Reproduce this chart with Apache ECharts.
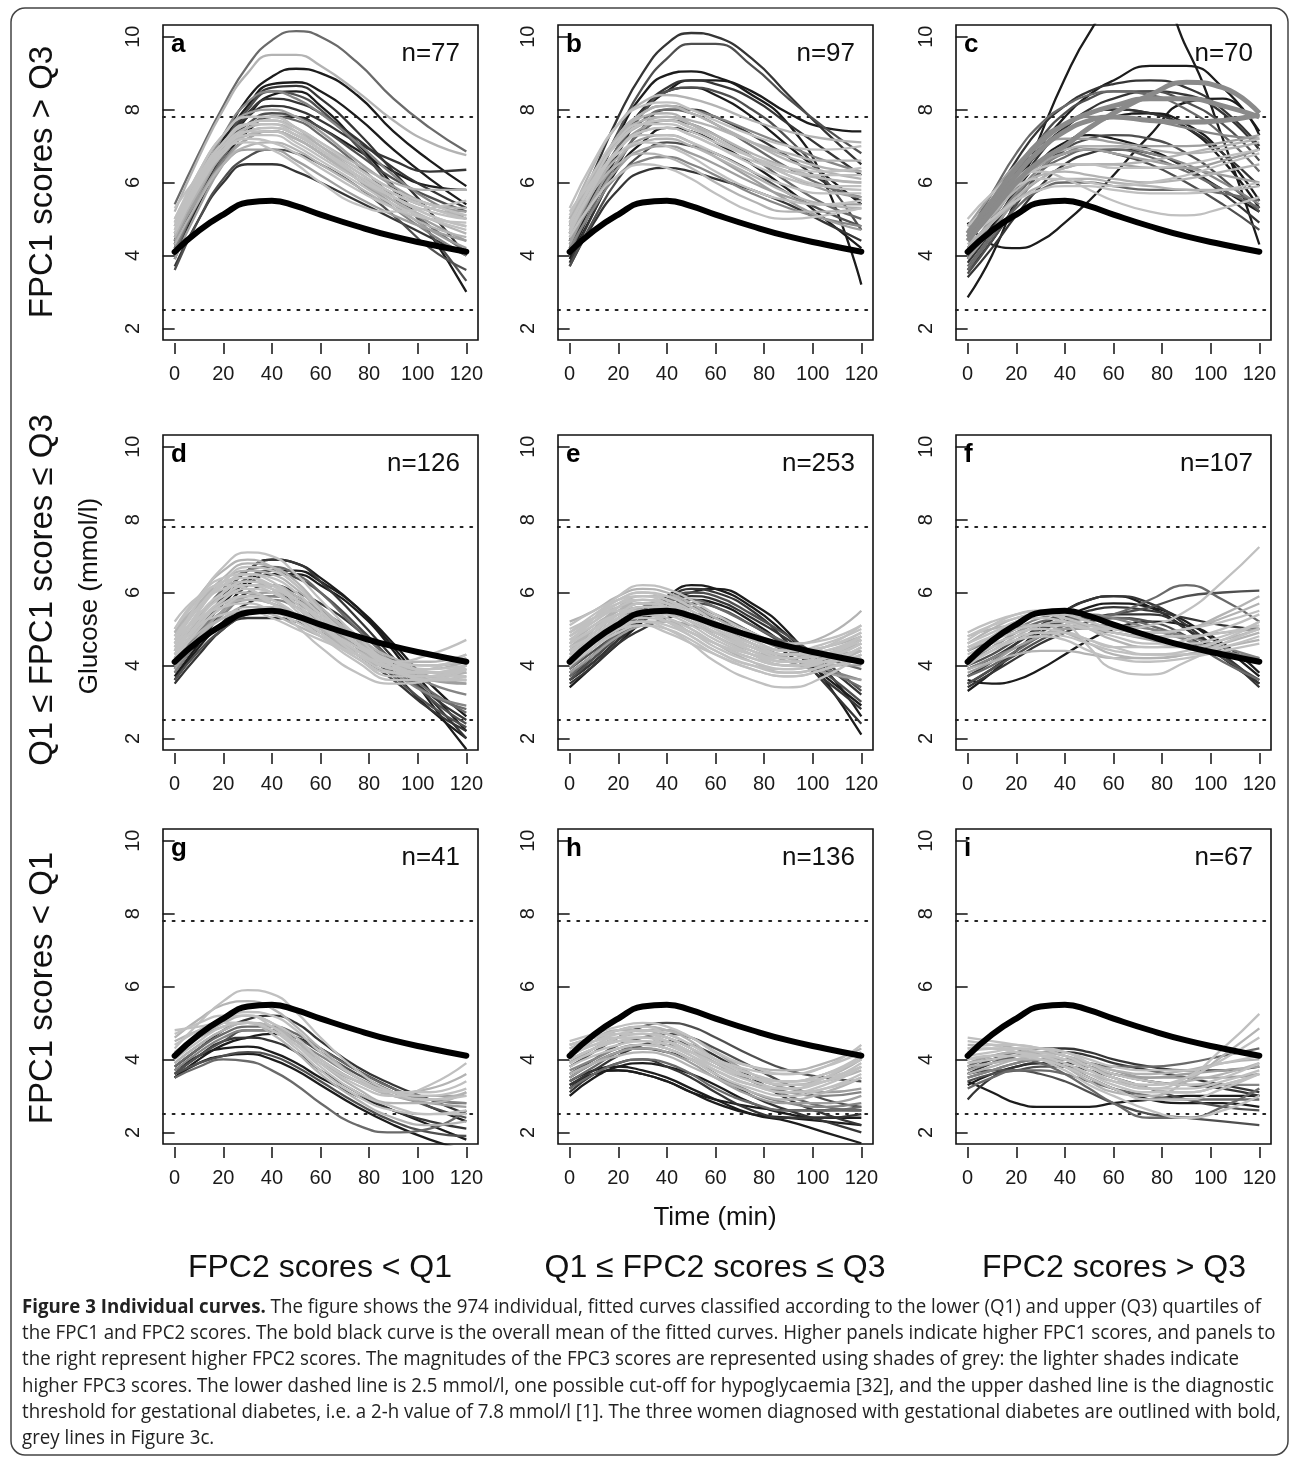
<!DOCTYPE html>
<html><head><meta charset="utf-8">
<script src="https://cdn.jsdelivr.net/npm/echarts@6/dist/echarts.min.js"></script>
<style>html,body{margin:0;padding:0;background:#fff}#c{width:1290px;height:1462px}</style>
</head><body><div id="c"></div>
<script>
// ---------------- data ----------------
const times = [0,10,20,30,40,50,60,75,90,105,120];
const xTicks = [0,20,40,60,80,100,120];
const yTicks = [2,4,6,8,10];
const refLevels = [2.5, 7.8];
const meanCurve = [4.1,4.68,5.12,5.45,5.5,5.35,5.12,4.8,4.52,4.3,4.1];
const panelLetters = ['a','b','c','d','e','f','g','h','i'];
const panelN = [77,97,70,126,253,107,41,136,67];
const rowLabels = ['FPC1 scores > Q3','Q1 \u2264 FPC1 scores \u2264 Q3','FPC1 scores < Q1'];
const colLabels = ['FPC2 scores < Q1','Q1 \u2264 FPC2 scores \u2264 Q3','FPC2 scores > Q3'];
const yTitle = 'Glucose (mmol/l)';
const xTitle = 'Time (min)';

// FPC3 shade class (1 = darkest / lowest FPC3, 8 = lightest / highest FPC3)
const curvesA = [
[5.4,6.8,8.1,9.2,9.9,10.15,10.0,9.3,8.3,7.5,6.85],
[5.2,6.7,8.0,9.0,9.5,9.5,9.2,8.5,7.7,7.1,6.75],
[4.6,5.9,7.2,8.3,8.9,9.12,9.0,8.4,7.4,6.6,5.9],
[4.4,5.8,7.1,8.1,8.7,8.75,8.5,7.8,6.9,6.1,5.4],
[4.2,5.7,7.0,8.0,8.6,8.65,8.3,7.4,6.3,5.2,4.0],
[4.0,5.6,7.0,8.0,8.5,8.4,8.0,7.0,5.8,4.6,3.3],
[3.9,5.5,6.8,7.8,8.4,8.5,8.1,7.1,5.9,4.6,3.0],
[4.5,6.0,7.3,8.2,8.5,8.3,7.9,7.1,6.2,5.5,5.0],
[4.3,5.8,7.0,7.9,8.3,8.2,7.9,7.2,6.4,5.8,5.3],
[4.8,6.2,7.3,7.9,8.0,7.8,7.4,6.6,5.9,5.4,5.2],
[4.9,6.3,7.3,7.8,7.8,7.5,7.0,6.3,5.7,5.3,5.0],
[5.0,6.2,7.1,7.6,7.6,7.3,6.9,6.2,5.6,5.1,4.8],
[4.6,5.9,6.9,7.5,7.6,7.4,7.0,6.4,5.8,5.4,5.3],
[4.4,5.7,6.8,7.4,7.5,7.3,6.9,6.2,5.5,4.9,4.4],
[4.7,6.0,6.9,7.3,7.3,7.0,6.6,6.0,5.4,5.0,4.7],
[4.2,5.5,6.6,7.2,7.4,7.2,6.8,6.1,5.3,4.6,4.0],
[4.8,5.9,6.8,7.2,7.1,6.8,6.4,5.8,5.3,5.0,4.9],
[4.3,5.5,6.5,7.0,7.1,6.9,6.5,5.9,5.3,4.8,4.5],
[4.5,5.6,6.5,6.9,6.9,6.6,6.2,5.6,5.1,4.7,4.4],
[5.3,6.2,6.9,7.1,6.9,6.5,6.0,5.4,5.2,5.3,5.5],
[3.7,5.0,6.0,6.5,6.5,6.3,6.0,5.5,5.0,4.5,4.0],
[3.6,5.0,6.1,6.7,6.9,6.8,6.5,5.9,5.1,4.2,3.6],
[4.1,5.5,6.7,7.5,7.8,7.7,7.3,6.5,5.6,4.8,4.1],
[4.0,5.4,6.6,7.4,7.8,7.8,7.5,6.9,6.3,5.9,5.8],
[4.6,5.8,6.8,7.3,7.4,7.2,6.8,6.2,5.7,5.3,5.1],
[4.3,5.7,6.9,7.6,7.9,7.8,7.5,6.8,6.1,5.6,5.2],
[4.9,6.1,7.0,7.4,7.4,7.1,6.7,6.1,5.6,5.2,5.0],
[3.9,5.3,6.5,7.2,7.4,7.2,6.8,6.1,5.4,4.7,4.2],
[4.4,5.8,7.0,7.8,8.1,8.0,7.7,7.1,6.6,6.3,6.35],
[4.7,6.0,7.0,7.6,7.7,7.5,7.1,6.5,6.0,5.8,5.8],
[4.8,6.1,7.1,7.6,7.7,7.4,6.9,6.2,5.6,5.1,4.8],
[4.5,5.8,6.8,7.3,7.4,7.2,6.8,6.1,5.5,5.0,4.6],
[5.0,6.3,7.3,7.8,7.8,7.5,7.1,6.4,5.8,5.4,5.1],
[4.6,5.9,6.9,7.4,7.5,7.3,6.9,6.3,5.7,5.3,5.0]
];
const shadeA = [4,7,1,1,2,3,1,5,2,6,7,8,7,6,8,5,8,7,6,8,2,3,4,1,7,3,8,6,2,7,8,7,8,8];

const curvesB = [
[4.8,6.3,7.8,9.0,9.8,10.1,10.0,9.4,8.4,7.4,6.5],
[4.6,6.0,7.4,8.6,9.4,9.8,9.8,9.2,8.3,7.5,6.8],
[4.4,5.9,7.3,8.4,8.95,9.05,8.9,8.5,7.9,7.5,7.4],
[4.2,5.7,7.0,8.0,8.6,8.8,8.7,8.3,7.6,6.9,6.2],
[4.0,5.4,6.8,7.9,8.5,8.8,8.8,8.4,7.6,6.0,3.2],
[4.3,5.6,6.9,7.9,8.5,8.6,8.5,8.0,7.2,6.1,4.7],
[5.0,6.5,7.6,8.2,8.4,8.3,8.1,7.7,7.4,7.2,7.1],
[5.3,6.6,7.6,8.1,8.2,8.0,7.7,7.3,7.0,6.9,7.0],
[4.7,6.1,7.3,7.9,8.1,7.9,7.6,7.1,6.6,6.3,6.1],
[3.8,5.2,6.5,7.5,8.0,8.0,7.8,7.3,6.7,6.0,5.5],
[5.1,6.3,7.2,7.6,7.6,7.4,7.1,6.7,6.4,6.3,6.4],
[4.5,5.8,6.9,7.5,7.7,7.5,7.2,6.7,6.2,5.8,5.6],
[4.1,5.4,6.6,7.4,7.7,7.6,7.3,6.7,6.0,5.4,5.0],
[4.9,6.0,6.9,7.3,7.3,7.1,6.8,6.3,5.9,5.7,5.7],
[4.6,5.8,6.7,7.1,7.2,7.0,6.7,6.2,5.7,5.4,5.3],
[3.9,5.2,6.4,7.1,7.5,7.4,7.1,6.5,5.8,5.0,4.2],
[5.2,6.1,6.8,7.1,7.0,6.7,6.3,5.8,5.5,5.4,5.5],
[4.4,5.5,6.4,6.9,7.0,6.8,6.5,6.0,5.6,5.4,5.4],
[4.8,5.8,6.5,6.8,6.7,6.4,6.0,5.5,5.2,5.2,5.3],
[3.7,5.0,6.1,6.8,7.1,7.0,6.8,6.3,5.7,5.2,4.8],
[4.5,5.5,6.2,6.5,6.4,6.1,5.7,5.2,5.0,5.1,5.3],
[4.2,5.3,6.2,6.6,6.7,6.5,6.2,5.7,5.3,5.0,4.8],
[3.7,4.9,5.8,6.3,6.4,6.3,6.1,5.8,5.4,4.9,4.4],
[5.0,6.2,7.1,7.6,7.8,7.7,7.5,7.1,6.8,6.6,6.6],
[4.4,5.8,7.0,7.7,8.0,7.9,7.6,7.0,6.4,5.9,5.6],
[4.7,5.9,6.9,7.4,7.5,7.3,7.0,6.6,6.3,6.2,6.2],
[4.3,5.6,6.6,7.2,7.3,7.1,6.7,6.1,5.5,5.0,4.7],
[4.1,5.6,7.0,8.0,8.5,8.6,8.4,7.8,7.0,6.2,5.4],
[4.9,6.2,7.2,7.8,7.9,7.6,7.2,6.7,6.3,6.1,6.0],
[4.6,6.0,7.2,7.9,8.1,8.0,7.8,7.4,7.0,6.6,6.3],
[4.8,6.1,7.1,7.6,7.7,7.5,7.2,6.7,6.2,5.9,5.8],
[5.0,6.2,7.2,7.7,7.8,7.6,7.3,6.8,6.4,6.1,6.0],
[4.6,5.9,6.9,7.4,7.5,7.3,7.0,6.5,6.1,5.9,5.9],
[4.9,6.2,7.3,7.9,8.1,7.9,7.6,7.1,6.7,6.4,6.3]
];
const shadeB = [2,3,1,2,1,3,7,8,7,2,8,6,4,8,7,1,8,6,7,3,8,5,2,7,4,8,6,1,7,5,8,7,8,7];

const curvesC = [
[2.85,4.0,5.6,7.3,8.85,10.1,10.9,11.2,9.7,7.2,4.3],
[4.9,4.3,4.2,4.4,4.9,5.5,6.2,7.3,8.2,8.3,7.3],
[4.2,5.0,6.0,7.0,7.8,8.4,8.8,9.2,9.2,8.6,7.4],
[4.5,5.5,6.6,7.5,8.1,8.5,8.7,8.8,8.6,8.0,7.0],
[4.0,5.0,6.2,7.2,7.9,8.3,8.5,8.5,8.2,7.6,6.6],
[4.6,5.7,6.8,7.6,8.1,8.4,8.5,8.4,8.0,7.3,6.3],
[3.8,4.7,5.8,6.8,7.5,8.0,8.3,8.5,8.4,7.9,6.9],
[4.4,5.4,6.4,7.2,7.6,7.8,7.8,7.7,7.5,7.3,7.2],
[3.6,4.4,5.4,6.3,7.0,7.5,7.8,7.9,7.6,6.8,5.5],
[4.8,5.7,6.5,7.0,7.2,7.2,7.1,7.0,7.0,7.1,7.3],
[4.6,5.4,6.1,6.6,6.9,7.0,7.0,6.9,6.8,6.9,7.1],
[3.5,4.4,5.4,6.3,6.9,7.2,7.3,7.2,6.8,6.1,5.2],
[4.7,5.4,6.0,6.4,6.5,6.5,6.4,6.4,6.5,6.7,6.9],
[4.2,5.0,5.9,6.5,6.8,6.9,6.8,6.6,6.4,6.2,6.0],
[3.9,4.8,5.8,6.6,7.1,7.3,7.2,6.9,6.4,5.8,5.2],
[4.4,5.1,5.8,6.2,6.3,6.2,6.1,6.0,6.1,6.3,6.5],
[3.7,4.6,5.6,6.3,6.7,6.9,6.9,6.7,6.3,5.8,5.3],
[5.0,5.7,6.2,6.3,6.1,5.8,5.5,5.2,5.1,5.3,5.6],
[4.3,4.9,5.5,5.9,6.1,6.1,6.0,5.9,5.8,5.8,5.9],
[3.4,4.2,5.1,5.9,6.5,6.8,6.9,6.8,6.4,5.7,4.9],
[4.1,4.9,5.7,6.4,6.8,7.0,7.0,6.8,6.5,6.0,5.4],
[4.5,5.3,6.0,6.5,6.8,6.9,6.8,6.5,6.0,5.4,4.7],
[4.8,5.4,5.9,6.1,6.1,6.0,5.9,6.0,6.2,6.5,6.8],
[3.9,4.7,5.5,6.1,6.4,6.5,6.5,6.4,6.4,6.6,6.9],
[4.0,5.0,6.0,6.9,7.5,7.9,8.0,7.9,7.5,6.6,5.3],
[4.2,4.9,5.6,6.1,6.4,6.5,6.5,6.6,6.8,7.0,7.2],
[3.6,4.5,5.3,5.8,6.0,6.0,5.9,5.8,5.8,5.7,5.5],
[4.4,5.3,6.3,7.1,7.6,7.9,8.0,7.9,7.5,6.8,5.9],
[4.5,5.0,5.5,5.8,5.9,5.9,5.8,5.7,5.7,5.8,6.0]
];
const shadeC = [1,1,1,2,3,4,2,5,1,6,7,3,8,6,1,7,4,8,7,2,5,3,8,6,1,7,4,2,8];
// the three women diagnosed with gestational diabetes (panel c)
const gdmCurves = [
[4.5,5.3,6.2,6.9,7.4,7.7,7.8,7.7,7.65,7.7,7.85],
[4.4,5.2,6.0,6.6,7.0,7.5,7.9,8.4,8.75,8.6,7.9],
[4.6,5.5,6.4,7.1,7.6,7.9,8.1,8.3,8.3,8.1,7.8]
];

const curvesD = [
[4.6,5.8,6.7,7.1,7.0,6.5,5.8,4.8,4.0,3.6,3.6],
[4.9,5.9,6.6,6.9,6.7,6.2,5.6,4.8,4.2,4.0,4.1],
[3.9,4.9,5.9,6.6,6.9,6.8,6.4,5.6,4.5,3.3,2.2],
[4.1,5.0,5.9,6.6,6.9,6.8,6.3,5.3,4.2,3.1,2.0],
[3.7,4.6,5.5,6.2,6.5,6.5,6.2,5.5,4.4,3.0,1.7],
[4.0,4.9,5.8,6.4,6.6,6.4,6.0,5.1,4.1,3.1,2.4],
[5.0,5.9,6.4,6.5,6.3,5.8,5.2,4.4,3.9,3.8,4.0],
[4.4,5.5,6.3,6.6,6.5,6.1,5.5,4.6,3.9,3.6,3.7],
[4.3,5.3,6.0,6.3,6.2,5.8,5.3,4.5,3.9,3.6,3.5],
[4.8,5.6,6.1,6.2,6.0,5.6,5.1,4.5,4.1,4.0,4.2],
[3.8,4.7,5.5,6.0,6.2,6.0,5.7,5.0,4.1,3.2,2.5],
[4.2,5.1,5.8,6.2,6.2,5.9,5.5,4.7,3.9,3.2,2.8],
[4.6,5.4,5.9,6.0,5.8,5.4,4.9,4.3,3.9,3.8,3.9],
[5.2,5.9,6.2,6.1,5.7,5.1,4.5,3.8,3.5,3.6,4.0],
[4.0,4.9,5.5,5.9,5.9,5.7,5.3,4.6,4.0,3.5,3.2],
[3.6,4.5,5.2,5.7,5.9,5.8,5.5,4.8,3.8,2.8,2.0],
[4.5,5.2,5.7,5.8,5.7,5.3,4.9,4.3,3.9,3.8,3.8],
[4.7,5.3,5.6,5.7,5.5,5.2,4.8,4.3,4.1,4.3,4.7],
[3.6,4.4,5.0,5.4,5.5,5.4,5.1,4.5,3.7,2.9,2.3],
[4.3,4.9,5.3,5.5,5.4,5.1,4.8,4.4,4.1,4.1,4.3],
[3.5,4.3,5.0,5.3,5.3,5.2,4.9,4.3,3.6,2.8,2.2],
[4.1,5.0,5.6,5.9,5.8,5.4,4.9,4.2,3.7,3.7,4.0],
[3.9,4.8,5.5,5.9,6.0,5.8,5.4,4.7,4.1,3.7,3.5],
[4.4,5.3,6.1,6.6,6.7,6.5,6.0,5.0,4.1,3.3,2.7],
[4.5,5.5,6.2,6.5,6.4,6.0,5.4,4.6,4.0,3.8,3.9],
[3.8,4.7,5.4,5.8,5.8,5.6,5.2,4.5,3.8,3.2,2.9],
[4.9,5.7,6.2,6.3,6.1,5.6,5.0,4.3,3.8,3.7,3.8],
[4.2,5.1,5.7,5.9,5.7,5.3,4.8,4.1,3.6,3.6,3.9],
[4.0,4.9,5.7,6.3,6.6,6.6,6.3,5.6,4.6,3.5,2.6],
[4.4,5.1,5.4,5.5,5.3,5.0,4.7,4.3,4.0,4.0,4.2],
[4.0,4.8,5.3,5.6,5.6,5.4,5.0,4.4,3.9,3.6,3.6],
[4.7,5.6,6.3,6.7,6.6,6.2,5.5,4.6,3.9,3.6,3.7],
[4.5,5.4,6.0,6.3,6.2,5.8,5.3,4.6,4.1,3.9,4.0],
[4.8,5.7,6.4,6.8,6.7,6.3,5.6,4.7,4.0,3.7,3.8],
[4.3,5.2,5.8,6.1,6.0,5.6,5.1,4.4,3.9,3.8,4.0],
[4.6,5.6,6.2,6.4,6.2,5.7,5.1,4.3,3.8,3.7,3.9],
[4.1,5.1,5.8,6.2,6.2,5.9,5.4,4.6,4.0,3.7,3.6],
[5.0,5.8,6.3,6.4,6.1,5.5,4.9,4.2,3.8,3.9,4.3],
[4.4,5.3,5.9,6.2,6.1,5.8,5.3,4.6,4.1,3.8,3.7],
[4.2,5.0,5.6,5.8,5.7,5.4,5.0,4.4,4.0,3.9,4.1]
];
const shadeD = [8,7,1,2,1,3,8,7,6,8,2,4,7,8,5,1,6,8,3,7,2,8,6,4,8,5,7,8,1,8,7,8,8,7,8,8,7,8,8,7];

const curvesE = [
[4.6,5.3,5.9,6.2,6.1,5.8,5.4,4.9,4.6,4.7,5.1],
[5.2,5.5,5.9,6.1,6.0,5.7,5.3,4.8,4.6,4.8,5.5],
[3.4,4.0,4.6,5.2,5.7,6.0,6.1,5.7,4.9,3.6,2.1],
[3.6,4.1,4.7,5.3,5.8,6.1,6.0,5.5,4.6,3.5,2.4],
[3.8,4.3,4.9,5.5,5.9,6.2,6.1,5.6,4.8,3.9,2.6],
[3.9,4.4,4.9,5.4,5.8,6.0,5.9,5.4,4.8,4.1,3.3],
[4.9,5.4,5.8,6.0,5.8,5.4,5.0,4.5,4.2,4.3,4.7],
[4.4,5.0,5.6,5.9,5.9,5.6,5.2,4.7,4.4,4.5,4.8],
[4.3,4.9,5.4,5.7,5.6,5.3,4.9,4.4,4.1,4.2,4.6],
[4.1,4.7,5.3,5.6,5.6,5.4,5.1,4.6,4.2,4.0,4.0],
[4.7,5.1,5.4,5.5,5.4,5.1,4.7,4.3,4.1,4.3,4.8],
[3.7,4.3,4.9,5.4,5.6,5.6,5.4,4.9,4.4,3.9,3.4],
[5.0,5.3,5.5,5.5,5.2,4.8,4.4,4.0,3.9,4.2,4.8],
[4.2,4.7,5.2,5.4,5.3,5.0,4.6,4.1,3.8,4.0,4.4],
[4.5,4.8,5.1,5.2,5.0,4.6,4.1,3.6,3.4,3.7,4.3],
[3.9,4.5,5.0,5.4,5.5,5.4,5.1,4.6,4.2,3.9,3.6],
[3.5,4.0,4.6,5.0,5.3,5.4,5.3,4.9,4.3,3.6,2.8],
[4.8,5.2,5.6,5.8,5.7,5.4,5.0,4.6,4.4,4.6,5.0],
[4.4,4.9,5.4,5.7,5.7,5.5,5.1,4.6,4.3,4.3,4.4],
[4.0,4.5,5.0,5.2,5.2,4.9,4.6,4.2,4.0,4.1,4.4],
[3.6,4.2,4.8,5.3,5.6,5.7,5.6,5.1,4.5,3.8,3.0],
[4.6,5.0,5.3,5.4,5.2,4.9,4.5,4.1,3.9,4.1,4.5],
[4.2,4.7,5.2,5.6,5.8,5.8,5.6,5.1,4.6,4.2,3.9],
[4.1,4.6,5.0,5.2,5.1,4.8,4.4,4.0,3.8,4.0,4.5],
[4.9,5.3,5.6,5.7,5.5,5.2,4.8,4.4,4.2,4.3,4.6],
[4.4,4.8,5.2,5.3,5.2,4.9,4.6,4.3,4.2,4.5,5.1],
[3.8,4.3,4.8,5.1,5.2,5.1,4.9,4.5,4.1,3.8,3.6],
[3.7,4.2,4.8,5.3,5.7,5.9,5.8,5.3,4.7,4.0,3.2],
[4.3,4.7,5.0,5.1,5.0,4.7,4.3,3.9,3.7,3.9,4.3],
[4.6,5.1,5.5,5.7,5.6,5.3,4.9,4.5,4.3,4.4,4.7],
[4.0,4.5,4.9,5.1,4.9,4.6,4.3,3.9,3.7,3.9,4.2],
[4.3,4.8,5.3,5.6,5.7,5.6,5.3,4.8,4.4,4.2,4.1],
[5.1,5.5,5.8,5.9,5.7,5.3,4.9,4.5,4.3,4.5,4.9],
[3.6,4.1,4.7,5.2,5.6,5.8,5.7,5.2,4.5,3.7,2.9],
[4.7,5.2,5.7,5.9,5.8,5.5,5.1,4.6,4.3,4.4,4.8],
[4.4,5.0,5.5,5.8,5.7,5.4,5.0,4.5,4.2,4.3,4.6],
[4.9,5.3,5.7,5.8,5.6,5.2,4.8,4.3,4.0,4.1,4.5],
[4.2,4.8,5.3,5.6,5.6,5.3,4.9,4.4,4.1,4.1,4.3],
[4.5,5.0,5.4,5.6,5.5,5.2,4.8,4.3,4.0,4.2,4.7],
[4.8,5.3,5.8,6.0,5.9,5.6,5.2,4.7,4.4,4.5,4.9],
[4.1,4.6,5.1,5.4,5.4,5.2,4.8,4.3,4.0,4.0,4.2],
[4.6,5.0,5.4,5.5,5.3,5.0,4.6,4.2,4.0,4.2,4.6]
];
const shadeE = [8,7,1,2,1,3,8,7,8,6,8,4,8,7,8,5,2,8,6,7,3,8,4,8,7,8,6,2,8,7,8,5,8,1,8,7,8,8,7,8,7,8];

const curvesF = [
[4.5,4.8,5.0,5.1,5.1,5.0,5.0,5.1,5.5,6.3,7.25],
[4.2,4.5,4.9,5.2,5.3,5.3,5.4,5.8,6.2,5.8,5.2],
[4.0,4.3,4.7,5.0,5.2,5.3,5.4,5.6,5.9,6.0,6.05],
[3.6,3.5,3.6,3.9,4.3,4.7,5.0,5.2,5.1,4.6,3.8],
[4.7,5.1,5.4,5.5,5.2,4.5,3.9,3.75,4.1,4.6,5.0],
[3.7,4.1,4.6,5.1,5.5,5.8,5.9,5.7,5.1,4.3,3.4],
[3.3,3.8,4.4,5.0,5.5,5.8,5.9,5.6,5.0,4.2,3.5],
[4.9,5.2,5.4,5.5,5.4,5.2,5.0,4.9,5.0,5.2,5.5],
[4.4,4.8,5.2,5.4,5.4,5.2,5.0,4.9,5.0,5.3,5.7],
[4.1,4.5,4.9,5.1,5.1,5.0,4.9,4.8,4.8,4.9,5.0],
[4.3,4.6,4.8,4.9,4.8,4.6,4.4,4.3,4.4,4.7,5.2],
[3.5,3.9,4.3,4.7,5.0,5.2,5.3,5.2,4.8,4.2,3.6],
[4.6,5.0,5.3,5.4,5.3,5.0,4.7,4.5,4.5,4.7,5.0],
[3.9,4.2,4.5,4.8,5.0,5.1,5.1,5.0,4.8,4.5,4.2],
[4.0,4.4,4.7,4.9,4.9,4.7,4.5,4.3,4.3,4.5,4.8],
[3.4,3.8,4.2,4.6,4.9,5.2,5.4,5.4,5.0,4.3,3.5],
[4.8,5.0,5.1,5.1,4.9,4.6,4.3,4.2,4.3,4.6,4.9],
[3.8,4.1,4.5,4.8,5.0,5.0,4.9,4.7,4.5,4.3,4.1],
[4.5,4.7,4.9,5.0,4.9,4.7,4.5,4.5,4.7,5.0,5.4],
[3.7,4.0,4.4,4.8,5.1,5.3,5.3,5.1,4.7,4.1,3.6],
[4.2,4.5,4.7,4.8,4.7,4.4,4.2,4.1,4.2,4.4,4.6],
[4.1,4.4,4.8,5.1,5.2,5.1,5.0,4.9,5.0,5.4,5.9],
[3.5,3.9,4.4,4.9,5.3,5.6,5.7,5.6,5.2,4.5,3.7],
[4.8,5.1,5.3,5.4,5.3,5.1,4.9,4.8,4.8,4.9,5.1],
[4.4,4.7,5.0,5.3,5.4,5.4,5.3,5.0,4.7,4.4,4.2],
[3.9,4.1,4.3,4.4,4.4,4.3,4.2,4.2,4.3,4.5,4.7],
[3.9,4.2,4.6,5.0,5.3,5.5,5.6,5.5,5.3,5.1,5.0],
[4.6,4.9,5.2,5.3,5.2,5.0,4.8,4.6,4.6,4.8,5.2]
];
const shadeF = [8,4,3,1,8,2,1,8,7,6,8,3,7,5,8,2,7,6,8,4,8,7,1,8,5,7,2,8];

const curvesG = [
[4.3,5.0,5.6,5.9,5.8,5.3,4.6,3.7,3.1,2.9,3.0],
[4.6,5.1,5.5,5.6,5.4,4.9,4.3,3.5,3.0,2.9,3.1],
[3.5,3.9,4.1,4.15,4.0,3.7,3.3,2.7,2.2,1.8,1.5],
[3.5,3.8,4.0,3.95,3.7,3.3,2.8,2.2,2.0,2.1,2.6],
[3.7,4.1,4.3,4.35,4.2,3.9,3.5,3.0,2.6,2.2,1.8],
[3.6,4.1,4.5,4.6,4.5,4.2,3.7,3.1,2.6,2.3,2.1],
[4.8,4.9,5.0,5.0,4.8,4.4,3.9,3.3,3.0,3.3,3.9],
[4.1,4.6,5.0,5.2,5.0,4.5,3.9,3.2,2.8,2.8,3.1],
[3.9,4.4,4.8,5.0,4.9,4.5,4.0,3.4,3.0,2.8,2.7],
[3.6,4.1,4.5,4.8,4.8,4.6,4.2,3.6,3.1,2.7,2.4],
[3.5,4.0,4.4,4.6,4.7,4.6,4.3,3.7,3.2,2.7,2.3],
[3.8,4.3,4.8,5.1,5.2,5.0,4.5,3.8,3.3,2.9,2.5],
[4.4,4.8,5.1,5.2,5.0,4.6,4.0,3.4,3.1,3.1,3.4],
[3.9,4.4,4.8,5.0,4.9,4.5,4.0,3.4,3.1,3.2,3.6],
[4.7,5.0,5.2,5.2,4.9,4.4,3.8,3.1,2.7,2.5,2.5],
[3.7,4.2,4.6,4.8,4.8,4.5,4.1,3.5,3.1,2.9,2.8],
[4.0,4.5,4.9,5.0,4.8,4.3,3.7,3.0,2.6,2.5,2.6],
[4.2,4.6,4.9,5.0,4.8,4.4,3.9,3.4,3.1,3.0,3.0],
[3.6,3.9,4.1,4.2,4.1,3.8,3.4,2.8,2.3,2.0,1.9],
[4.5,4.8,5.0,5.0,4.7,4.2,3.6,2.9,2.4,2.2,2.3],
[4.2,4.7,5.1,5.3,5.2,4.8,4.2,3.5,3.1,3.0,3.2],
[3.8,4.3,4.7,4.9,4.9,4.7,4.3,3.7,3.2,2.9,2.8]
];
const shadeG = [8,7,1,4,1,2,8,7,6,3,1,2,8,7,8,5,8,6,3,7,8,4];

const curvesH = [
[4.5,4.7,4.9,5.0,4.9,4.6,4.2,3.8,3.6,3.8,4.4],
[4.3,4.6,4.8,4.9,4.8,4.6,4.2,3.8,3.7,3.9,4.3],
[3.4,3.7,3.8,3.7,3.5,3.2,2.9,2.5,2.3,2.0,1.7],
[3.2,3.6,3.7,3.6,3.4,3.1,2.8,2.5,2.4,2.3,2.2],
[3.1,3.6,3.9,4.0,3.8,3.5,3.1,2.6,2.4,2.4,2.5],
[3.5,3.9,4.2,4.3,4.2,4.0,3.6,3.0,2.6,2.3,2.0],
[4.4,4.6,4.8,4.9,4.7,4.4,4.0,3.6,3.4,3.6,4.1],
[3.9,4.3,4.6,4.8,4.8,4.6,4.2,3.6,3.2,3.1,3.2],
[4.1,4.4,4.6,4.6,4.5,4.2,3.8,3.4,3.2,3.4,3.9],
[3.6,4.0,4.4,4.6,4.7,4.6,4.3,3.8,3.3,2.9,2.7],
[4.0,4.3,4.5,4.6,4.5,4.2,3.9,3.5,3.3,3.4,3.7],
[3.0,3.5,3.8,3.9,3.8,3.6,3.3,2.8,2.5,2.4,2.4],
[3.8,4.1,4.3,4.4,4.3,4.0,3.7,3.3,3.1,3.3,3.8],
[3.4,3.8,4.2,4.4,4.4,4.2,3.9,3.4,3.0,2.7,2.6],
[4.3,4.5,4.6,4.6,4.4,4.1,3.7,3.3,3.2,3.5,4.1],
[3.7,4.0,4.3,4.4,4.3,4.0,3.6,3.1,2.8,2.7,2.8],
[4.1,4.5,4.8,4.9,4.8,4.5,4.0,3.5,3.3,3.5,4.0],
[3.3,3.7,4.1,4.4,4.5,4.4,4.1,3.5,2.9,2.5,2.2],
[3.9,4.2,4.4,4.5,4.4,4.1,3.8,3.5,3.4,3.5,3.8],
[3.5,3.9,4.2,4.3,4.2,3.9,3.5,3.0,2.8,2.8,3.0],
[4.2,4.4,4.5,4.5,4.3,4.0,3.6,3.2,3.0,3.2,3.6],
[3.8,4.2,4.6,4.9,5.0,4.9,4.6,4.1,3.7,3.5,3.4],
[3.6,3.9,4.1,4.2,4.1,3.8,3.5,3.1,2.9,3.1,3.5],
[3.3,3.6,3.7,3.6,3.4,3.1,2.9,2.7,2.6,2.6,2.6],
[4.0,4.3,4.6,4.7,4.6,4.3,4.0,3.7,3.6,3.8,4.2],
[3.2,3.6,3.9,4.0,3.9,3.6,3.2,2.8,2.6,2.6,2.7],
[4.4,4.6,4.7,4.7,4.5,4.1,3.7,3.3,3.1,3.2,3.5],
[3.9,4.3,4.6,4.7,4.6,4.3,3.9,3.4,3.1,3.0,3.1],
[4.2,4.5,4.7,4.8,4.7,4.4,4.0,3.6,3.4,3.6,4.0],
[4.0,4.3,4.5,4.6,4.5,4.2,3.9,3.5,3.3,3.4,3.8],
[4.4,4.6,4.8,4.8,4.6,4.3,3.9,3.5,3.4,3.6,4.0]
];
const shadeH = [8,7,1,1,2,2,8,6,8,3,7,1,8,4,8,5,7,2,8,6,8,3,7,1,8,4,8,5,8,8,7];

const curvesI = [
[4.2,4.3,4.3,4.2,4.0,3.7,3.4,3.2,3.5,4.3,5.25],
[4.4,4.4,4.3,4.1,3.8,3.4,3.1,3.0,3.4,4.1,4.85],
[4.6,4.5,4.4,4.3,4.1,3.8,3.5,3.3,3.5,4.0,4.6],
[3.4,3.1,2.8,2.7,2.7,2.7,2.8,2.9,3.0,3.0,3.0],
[3.6,3.7,3.7,3.6,3.4,3.1,2.8,2.5,2.4,2.3,2.2],
[3.8,4.0,4.0,3.9,3.6,3.2,2.8,2.4,2.4,2.7,3.2],
[2.9,3.5,3.8,3.9,3.9,3.8,3.6,3.4,3.3,3.2,3.0],
[4.3,4.4,4.4,4.3,4.2,4.0,3.8,3.7,3.7,3.9,4.1],
[4.0,4.1,4.2,4.2,4.1,3.9,3.7,3.6,3.7,3.9,4.0],
[3.7,3.9,4.0,4.1,4.0,3.8,3.6,3.5,3.6,3.7,3.8],
[3.3,3.6,3.8,3.9,3.8,3.5,3.2,2.9,2.8,2.8,2.7],
[3.9,4.0,4.1,4.1,4.0,3.7,3.4,3.2,3.2,3.4,3.7],
[3.5,3.7,3.9,4.0,4.0,3.8,3.6,3.4,3.3,3.3,3.3],
[3.6,3.9,4.1,4.2,4.2,4.1,3.9,3.7,3.5,3.3,3.1],
[4.5,4.4,4.2,4.0,3.7,3.3,3.0,2.6,2.4,2.6,3.0],
[3.8,3.9,4.0,4.0,3.8,3.6,3.4,3.3,3.4,3.6,3.9],
[3.4,3.6,3.7,3.8,3.8,3.7,3.5,3.2,2.9,2.7,2.6],
[4.1,4.2,4.3,4.3,4.2,3.9,3.6,3.4,3.3,3.5,3.9],
[3.9,4.1,4.2,4.2,4.1,3.9,3.7,3.5,3.5,3.5,3.6],
[3.2,3.5,3.7,3.7,3.6,3.4,3.2,3.0,2.9,2.9,2.9],
[4.3,4.3,4.2,4.1,3.9,3.6,3.3,3.1,3.1,3.3,3.6],
[3.6,3.8,4.0,4.1,4.0,3.8,3.5,3.2,3.1,3.3,3.6],
[3.7,4.0,4.2,4.3,4.3,4.2,4.0,3.8,3.7,3.7,3.8],
[4.0,4.1,4.1,4.0,3.8,3.5,3.2,2.9,2.9,3.2,3.6],
[3.5,3.7,3.9,4.0,4.0,3.9,3.8,3.8,3.9,4.1,4.3]
];
const shadeI = [8,7,8,1,3,4,2,8,7,6,1,8,5,2,8,7,3,8,6,4,8,7,2,8,4];

const panelCurves = [curvesA,curvesB,curvesC,curvesD,curvesE,curvesF,curvesG,curvesH,curvesI];
const panelShades = [shadeA,shadeB,shadeC,shadeD,shadeE,shadeF,shadeG,shadeH,shadeI];

const caption = [
 ['Figure 3 Individual curves.', ' The figure shows the 974 individual, fitted curves classified according to the lower (Q1) and upper (Q3) quartiles of'],
 ['', 'the FPC1 and FPC2 scores. The bold black curve is the overall mean of the fitted curves. Higher panels indicate higher FPC1 scores, and panels to'],
 ['', 'the right represent higher FPC2 scores. The magnitudes of the FPC3 scores are represented using shades of grey: the lighter shades indicate'],
 ['', 'higher FPC3 scores. The lower dashed line is 2.5 mmol/l, one possible cut-off for hypoglycaemia [32], and the upper dashed line is the diagnostic'],
 ['', 'threshold for gestational diabetes, i.e. a 2-h value of 7.8 mmol/l [1]. The three women diagnosed with gestational diabetes are outlined with bold,'],
 ['', 'grey lines in Figure 3c.']
];

// ---------------- layout / style ----------------
const FONT = '"Liberation Sans", Arial, Helvetica, sans-serif';
const greys = ['#1c1c1c','#353535','#4f4f4f','#6a6a6a','#858585','#9f9f9f','#b3b3b3','#c0c0c0'];
const colLeft = [163, 558, 956];
const rowTop = [25, 435, 829];
const SIZE = 315;
const XMIN = -4.8, XMAX = 124.8, YMIN = 1.68, YMAX = 10.32;

const grids = [], xAxes = [], yAxes = [], series = [], graphics = [];
for (let p = 0; p < 9; p++) {
  const r = Math.floor(p / 3), c = p % 3;
  const left = colLeft[c], top = rowTop[r];
  grids.push({left, top, width: SIZE, height: SIZE, show: true, borderColor: '#111', borderWidth: 1.6, backgroundColor: 'rgba(0,0,0,0)', containLabel: false});
  xAxes.push({gridIndex: p, type: 'value', min: XMIN, max: XMAX, offset: 3,
    axisLine: {show: false}, splitLine: {show: false},
    axisTick: {show: true, customValues: xTicks, length: 11, lineStyle: {color: '#111', width: 1.5}},
    axisLabel: {customValues: xTicks, margin: 21, fontSize: 20, color: '#1a1a1a', fontFamily: FONT}});
  yAxes.push({gridIndex: p, type: 'value', min: YMIN, max: YMAX,
    axisLine: {show: false}, splitLine: {show: false},
    axisTick: {show: true, customValues: yTicks, length: 12, lineStyle: {color: '#111', width: 1.5}},
    axisLabel: {customValues: yTicks, rotate: 90, margin: 20, fontSize: 20, color: '#1a1a1a', fontFamily: FONT}});
  // reference lines
  refLevels.forEach(v => series.push({type: 'line', xAxisIndex: p, yAxisIndex: p, data: [[XMIN, v], [XMAX, v]],
    symbol: 'none', silent: true, z: 1, lineStyle: {color: '#222', width: 2, type: [2, 7.6], cap: 'round'}}));
  // individual curves, darker shades drawn first
  const order = panelCurves[p].map((_, i) => i).sort((u, v) => panelShades[p][u] - panelShades[p][v]);
  order.forEach(i => {
    const cv = panelCurves[p][i];
    series.push({type: 'line', xAxisIndex: p, yAxisIndex: p,
      data: times.map((t, k) => [t, cv[k]]), smooth: 0.5, symbol: 'none', silent: true, z: 2,
      lineStyle: {color: greys[panelShades[p][i] - 1], width: 2.3}});
  });
  if (p === 2) gdmCurves.forEach(cv => series.push({type: 'line', xAxisIndex: p, yAxisIndex: p,
    data: times.map((t, k) => [t, cv[k]]), smooth: 0.5, symbol: 'none', silent: true, z: 3,
    lineStyle: {color: '#8a8a8a', width: 5}}));
  // overall mean
  series.push({type: 'line', xAxisIndex: p, yAxisIndex: p, data: times.map((t, k) => [t, meanCurve[k]]),
    smooth: 0.5, symbol: 'none', silent: true, z: 5, lineStyle: {color: '#000', width: 6, cap: 'round'}});
  // panel letter and n
  graphics.push({type: 'text', x: left + 8, y: top + 20, z: 10,
    style: {text: panelLetters[p], font: 'bold 26px ' + FONT, fill: '#000', align: 'left', verticalAlign: 'middle'}});
  graphics.push({type: 'text', x: left + SIZE - 18, y: top + 29, z: 10,
    style: {text: 'n=' + panelN[p], font: '26px ' + FONT, fill: '#111', align: 'right', verticalAlign: 'middle'}});
}
// row labels
const rowCY = [182, 590, 988];
rowLabels.forEach((t, r) => graphics.push({type: 'text', x: 43, y: rowCY[r], rotation: Math.PI / 2,
  style: {text: t, font: '33px ' + FONT, fill: '#111', align: 'center', verticalAlign: 'middle'}}));
graphics.push({type: 'text', x: 90, y: 596, rotation: Math.PI / 2,
  style: {text: yTitle, font: '26px ' + FONT, fill: '#111', align: 'center', verticalAlign: 'middle'}});
graphics.push({type: 'text', x: 715, y: 1218,
  style: {text: xTitle, font: '26px ' + FONT, fill: '#111', align: 'center', verticalAlign: 'middle'}});
const colCX = [320, 715, 1114];
colLabels.forEach((t, c) => graphics.push({type: 'text', x: colCX[c], y: 1268,
  style: {text: t, font: '32px ' + FONT, fill: '#111', align: 'center', verticalAlign: 'middle'}}));

// caption
const CFS = 20, CFONT = '"Open Sans", "Noto Sans", sans-serif';
const cv = document.createElement('canvas').getContext('2d');
cv.font = 'bold ' + CFS + 'px ' + CFONT; const wb = cv.measureText(caption[0][0]).width;
cv.font = CFS + 'px ' + CFONT; const wr = cv.measureText(caption[0][1]).width;
const sx = (1261 - 22) / (wb + wr);
const capY = [1307, 1333, 1359, 1386, 1412, 1438];
caption.forEach((ln, i) => {
  const txt = (ln[0] ? '{b|' + ln[0] + '}' : '') + '{r|' + ln[1] + '}';
  graphics.push({type: 'text', x: 22, y: capY[i], scaleX: sx, scaleY: 1,
    style: {text: txt, align: 'left', verticalAlign: 'middle', fill: '#222', font: CFS + 'px ' + CFONT,
      rich: {b: {fontWeight: 'bold', fontSize: CFS, fontFamily: CFONT, fill: '#222', color: '#222'},
             r: {fontSize: CFS, fontFamily: CFONT, fill: '#222', color: '#222'}}}});
});
// outer frame
graphics.push({type: 'rect', z: 0, shape: {x: 11, y: 8, width: 1277, height: 1447, r: 14},
  style: {fill: 'none', stroke: '#444', lineWidth: 1.5}});

const chart = echarts.init(document.getElementById('c'), null, {renderer: 'canvas'});
chart.setOption({animation: false, backgroundColor: '#fff', grid: grids, xAxis: xAxes, yAxis: yAxes, series, graphic: graphics});
</script></body></html>
